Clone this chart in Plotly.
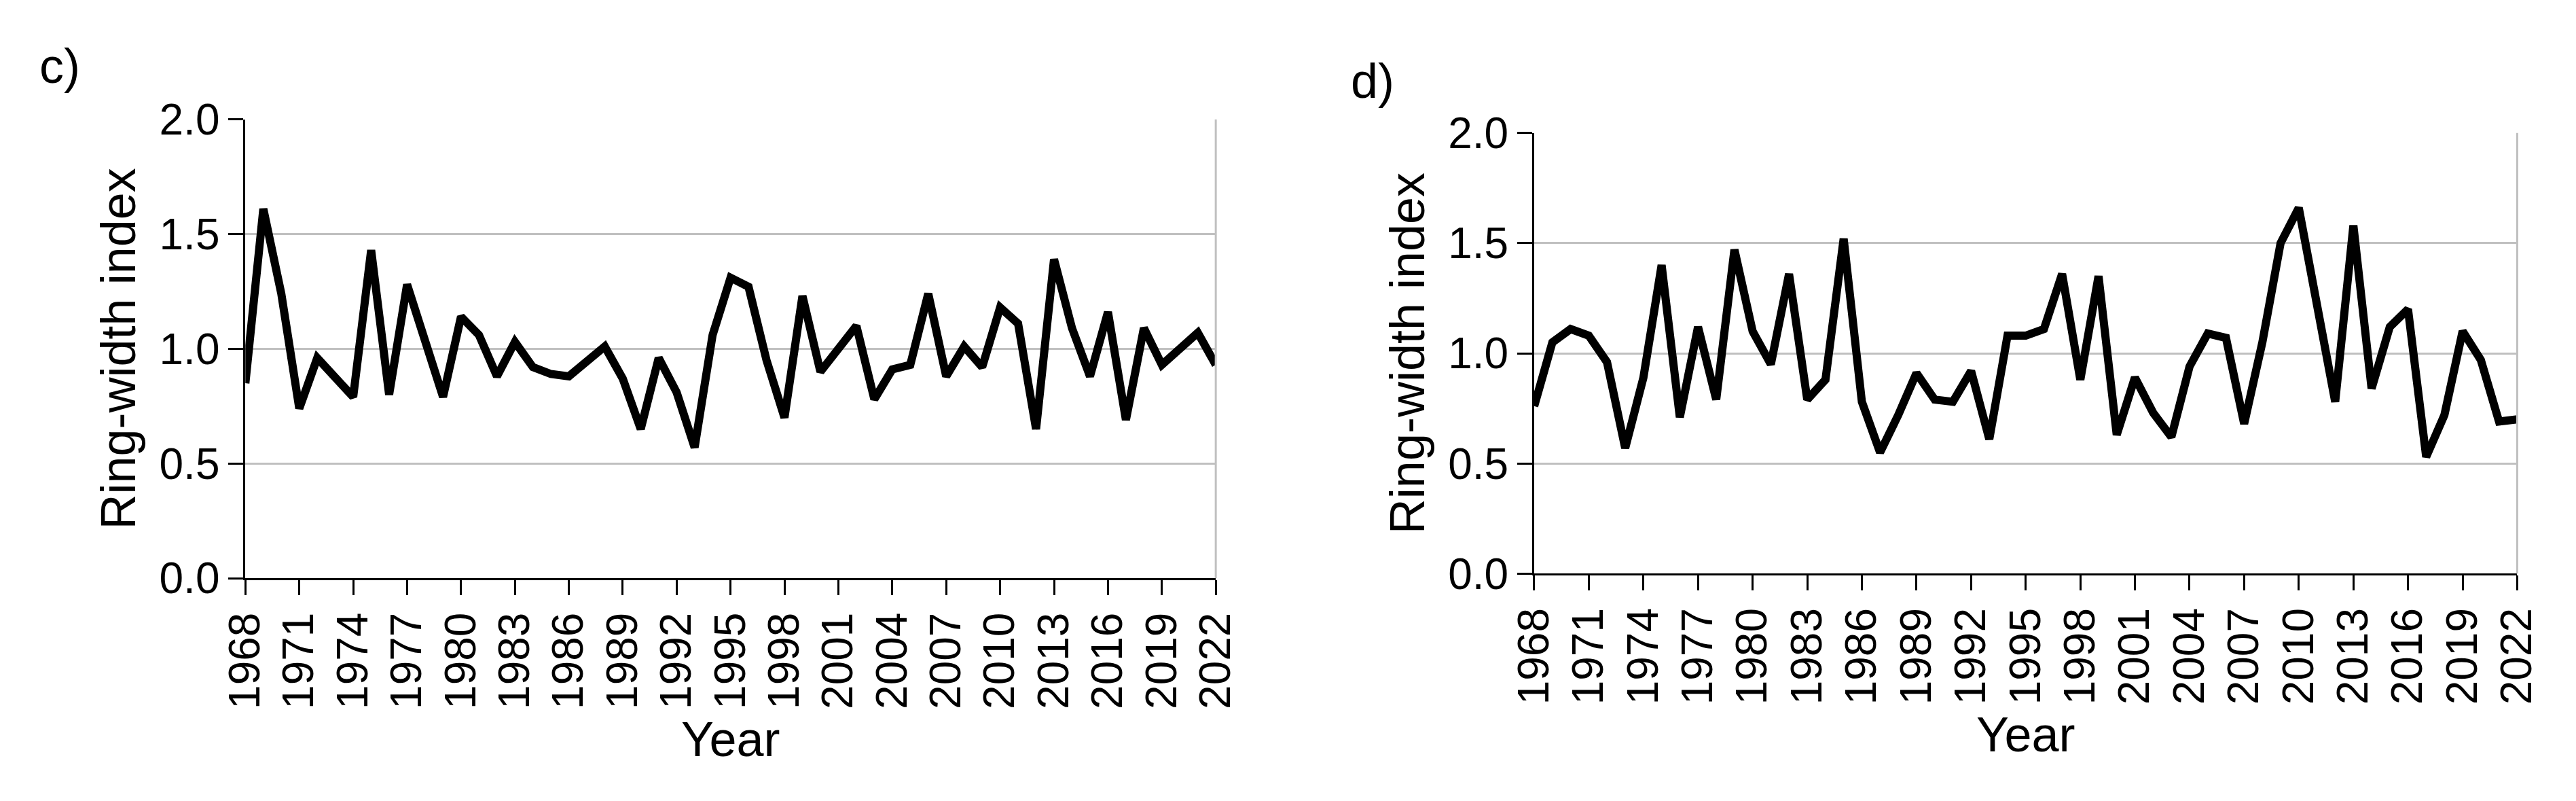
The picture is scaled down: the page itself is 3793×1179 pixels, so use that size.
import plotly.graph_objects as go

years = list(range(1968, 2023))
rwi_c = [0.85,1.61,1.24,0.74,0.96,0.88,0.79,1.43,0.80,1.28,1.02,0.79,1.14,1.06,0.88,1.03,0.92,0.89,0.88,0.95,
         1.01,0.87,0.65,0.96,0.81,0.57,1.06,1.31,1.27,0.95,0.70,1.23,0.90,1.00,1.10,0.78,0.91,0.93,1.24,0.88,
         1.01,0.92,1.18,1.11,0.65,1.39,1.09,0.88,1.16,0.69,1.09,0.93,1.00,1.07,0.93]
rwi_d = [0.76,1.05,1.11,1.08,0.96,0.57,0.89,1.40,0.71,1.12,0.79,1.47,1.10,0.95,1.36,0.79,0.88,1.52,0.78,0.55,
         0.72,0.91,0.79,0.78,0.92,0.61,1.08,1.08,1.11,1.36,0.88,1.35,0.63,0.89,0.73,0.62,0.94,1.09,1.07,0.68,
         1.05,1.50,1.66,1.24,0.78,1.58,0.84,1.12,1.20,0.53,0.72,1.10,0.97,0.69,0.70]
tick_years = list(range(1968, 2023, 3))
panel_labels = ["c)", "d)"]

FONT = "Liberation Sans, Arial, sans-serif"
fig = go.Figure()
fig.add_trace(go.Scatter(x=years, y=rwi_c, mode="lines", line=dict(color="black", width=12), xaxis="x", yaxis="y"))
fig.add_trace(go.Scatter(x=years, y=rwi_d, mode="lines", line=dict(color="black", width=12), xaxis="x2", yaxis="y2"))

xcommon = dict(range=[1968, 2022], tickvals=tick_years, tickangle=-90, ticks="outside", ticklen=22,
               tickcolor="black", tickwidth=3, showline=True, linecolor="black", linewidth=3,
               showgrid=False, zeroline=False, tickfont=dict(size=64, color="black"),
               title=dict(text="Year", font=dict(size=72, color="black"), standoff=20))
ycommon = dict(range=[0, 2.0], dtick=0.5, tickformat=".1f", ticks="outside", ticklen=22, tickcolor="black",
               tickwidth=3, showline=True, linecolor="black", linewidth=3, showgrid=True,
               gridcolor="#c0c0c0", gridwidth=3, zeroline=False, tickfont=dict(size=64, color="black"),
               title=dict(text="Ring-width index", font=dict(size=72, color="black"), standoff=12))

fig.update_layout(
    width=3793, height=1179, margin=dict(l=0, r=0, t=0, b=0),
    paper_bgcolor="white", plot_bgcolor="white", showlegend=False,
    font=dict(family=FONT, color="black"),
    xaxis=dict(domain=[0.085, 0.469], anchor="y", **xcommon),
    yaxis=dict(domain=[0.271, 0.881], anchor="x", **ycommon),
    xaxis2=dict(domain=[0.595, 0.984], anchor="y2", **xcommon),
    yaxis2=dict(domain=[0.277, 0.863], anchor="x2", **ycommon),
    annotations=[
        dict(text=panel_labels[0], x=0.003, y=0.99, xref="paper", yref="paper", xanchor="left", yanchor="top",
             showarrow=False, font=dict(size=72, color="black")),
        dict(text=panel_labels[1], x=0.522, y=0.97, xref="paper", yref="paper", xanchor="left", yanchor="top",
             showarrow=False, font=dict(size=72, color="black")),
    ],
    shapes=[
        dict(type="line", xref="x domain", yref="y domain", x0=1, x1=1, y0=0, y1=1, line=dict(color="#c0c0c0", width=3)),
        dict(type="line", xref="x2 domain", yref="y2 domain", x0=1, x1=1, y0=0, y1=1, line=dict(color="#c0c0c0", width=3)),
    ],
)
fig.write_html("out.html")
